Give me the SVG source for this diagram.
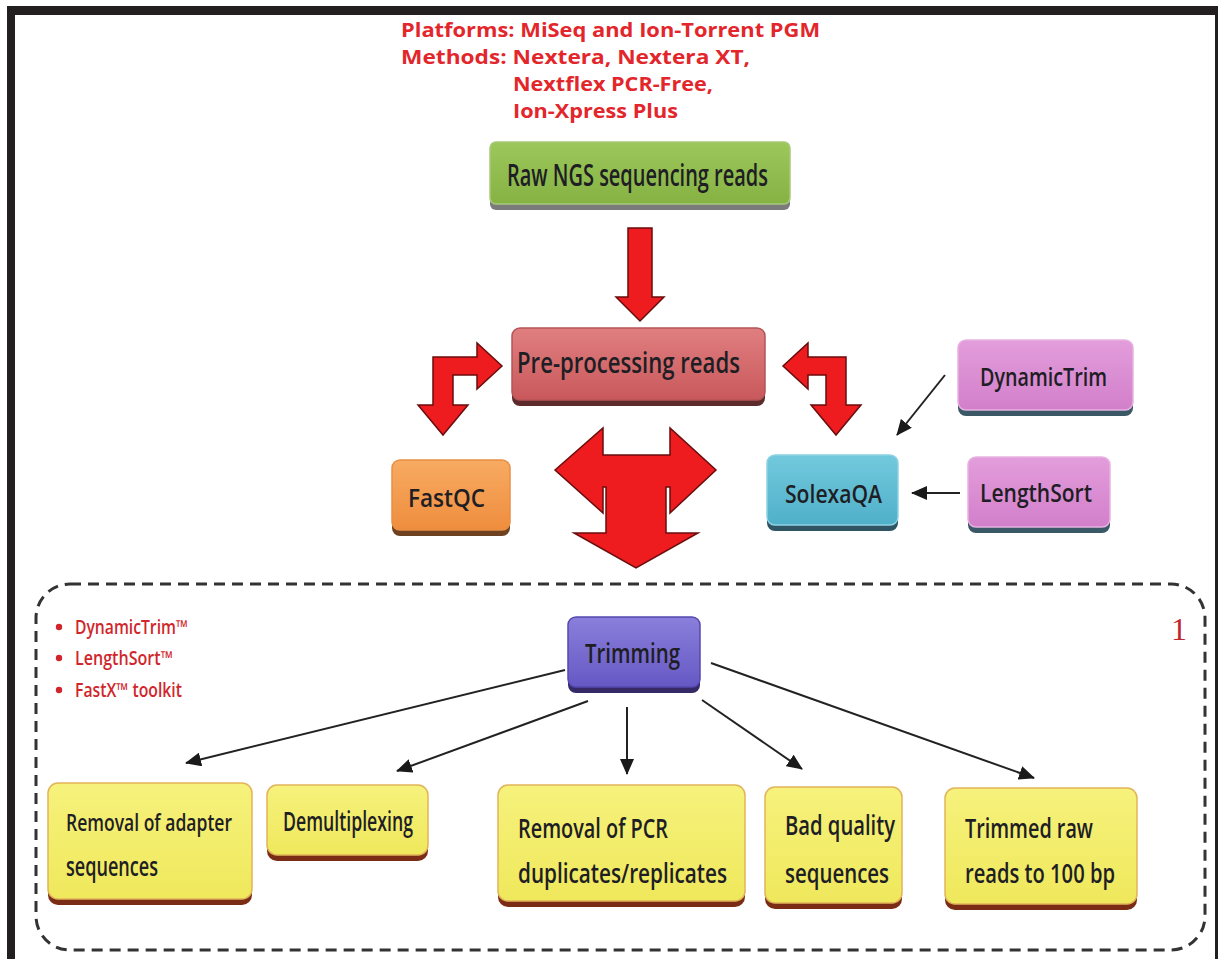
<svg xmlns="http://www.w3.org/2000/svg" width="1218" height="959" viewBox="0 0 1218 959">
<style>
.lbl{font-family:"Open Sans","Liberation Sans",sans-serif;font-weight:600;fill:#1e1e24;}
.top{font-family:"Open Sans","Liberation Sans",sans-serif;font-weight:700;fill:#e3262b;font-size:20px;}
.bul{font-family:"Open Sans","Liberation Sans",sans-serif;font-weight:600;fill:#d0262b;font-size:19px;}
.red{fill:#ee1b1f;stroke:#6a0d0d;stroke-width:1.5;stroke-linejoin:miter;}
.ln{stroke:#222;stroke-width:2;fill:none;marker-end:url(#ah);}
</style>
<defs>
<marker id="ah" markerUnits="userSpaceOnUse" markerWidth="16" markerHeight="14" refX="15" refY="7" orient="auto">
<path d="M0,0 L16,7 L0,14 z" fill="#1a1a1a"/>
</marker>
<linearGradient id="gGreen" x1="0" y1="0" x2="0" y2="1"><stop offset="0" stop-color="#9cc75a"/><stop offset="1" stop-color="#86b244"/></linearGradient>
<linearGradient id="gPre" x1="0" y1="0" x2="0" y2="1"><stop offset="0" stop-color="#e07f80"/><stop offset="1" stop-color="#c9585b"/></linearGradient>
<linearGradient id="gOr" x1="0" y1="0" x2="0" y2="1"><stop offset="0" stop-color="#f7ab62"/><stop offset="1" stop-color="#ef8d3e"/></linearGradient>
<linearGradient id="gBlue" x1="0" y1="0" x2="0" y2="1"><stop offset="0" stop-color="#72c9dd"/><stop offset="1" stop-color="#4fb0c9"/></linearGradient>
<linearGradient id="gPink" x1="0" y1="0" x2="0" y2="1"><stop offset="0" stop-color="#e39ddc"/><stop offset="1" stop-color="#d27fca"/></linearGradient>
<linearGradient id="gPur" x1="0" y1="0" x2="0" y2="1"><stop offset="0" stop-color="#8a7fdb"/><stop offset="1" stop-color="#6658c4"/></linearGradient>
<linearGradient id="gYel" x1="0" y1="0" x2="0" y2="1"><stop offset="0" stop-color="#f6f27c"/><stop offset="1" stop-color="#efe85c"/></linearGradient>
</defs>

<rect x="0" y="0" width="1218" height="959" fill="#ffffff"/>
<rect x="7" y="6" width="1211" height="9" fill="#231f20"/>
<rect x="7" y="6" width="8" height="953" fill="#231f20"/>
<rect x="1215" y="6" width="3" height="953" fill="#231f20"/>

<g id="header">
<text class="top" x="401" y="37" textLength="419" lengthAdjust="spacingAndGlyphs">Platforms: MiSeq and Ion-Torrent PGM</text>
<text class="top" x="401" y="64" textLength="349" lengthAdjust="spacingAndGlyphs">Methods: Nextera, Nextera XT,</text>
<text class="top" x="513" y="91" textLength="200" lengthAdjust="spacingAndGlyphs">Nextflex PCR-Free,</text>
<text class="top" x="513" y="118" textLength="165" lengthAdjust="spacingAndGlyphs">Ion-Xpress Plus</text>
</g>

<g id="region1">
<rect x="36" y="584" width="1169" height="366" rx="34" ry="34" fill="none" stroke="#333" stroke-width="3" stroke-dasharray="11,7"/>
<text x="1171" y="640" font-family="Liberation Serif,serif" font-size="32" fill="#c0282d">1</text>
<circle cx="59" cy="627" r="3.2" fill="#d0262b"/>
<text class="bul" x="75" y="634" textLength="113" lengthAdjust="spacingAndGlyphs">DynamicTrim™</text>
<circle cx="59" cy="658" r="3.2" fill="#d0262b"/>
<text class="bul" x="75" y="665" textLength="98" lengthAdjust="spacingAndGlyphs">LengthSort™</text>
<circle cx="59" cy="690" r="3.2" fill="#d0262b"/>
<text class="bul" x="75" y="697" textLength="107" lengthAdjust="spacingAndGlyphs">FastX™ toolkit</text>
</g>

<g id="connectors">
<path class="red" d="M628,228 L652,228 L652,297 L664,297 L640,321 L616,297 L628,297 Z"/>
<path class="red" d="M433,357 L477,357 L477,343 L502,366 L477,389 L477,375 L453,375 L453,405 L468,405 L443,435 L418,405 L433,405 Z"/>
<path class="red" d="M846,357 L808,357 L808,343 L783,366 L808,389 L808,375 L826,375 L826,405 L811,405 L836,435 L861,405 L846,405 Z"/>
<path class="red" d="M555,470 L603,428 L603,455 L670,455 L670,428 L716,470 L670,513 L670,487 L666,487 L666,533 L698,533 L636,568 L574,533 L606,533 L606,487 L603,487 L603,513 Z"/>
<line class="ln" x1="945" y1="375" x2="897" y2="435"/>
<line class="ln" x1="960" y1="493" x2="912" y2="493"/>
<line class="ln" x1="565" y1="670" x2="186" y2="763"/>
<line class="ln" x1="588" y1="701" x2="397" y2="771"/>
<line class="ln" x1="627" y1="707" x2="627" y2="774"/>
<line class="ln" x1="702" y1="700" x2="802" y2="769"/>
<line class="ln" x1="711" y1="663" x2="1034" y2="778"/>
</g>

<g id="raw">
<rect x="490" y="148" width="300" height="62" rx="6" fill="#7b7b7b"/>
<rect x="490" y="142" width="300" height="62" rx="6" fill="url(#gGreen)" stroke="#a7c97a" stroke-width="1.5"/>
<text class="lbl" x="507" y="186" font-size="31" textLength="261" lengthAdjust="spacingAndGlyphs">Raw NGS sequencing reads</text>
</g>
<g id="preprocessing">
<rect x="512" y="334" width="253" height="72" rx="8" fill="#5c2a2b"/>
<rect x="512" y="328" width="253" height="72" rx="8" fill="url(#gPre)" stroke="#b45456" stroke-width="1.5"/>
<text class="lbl" x="517" y="373" font-size="28" textLength="223" lengthAdjust="spacingAndGlyphs">Pre-processing reads</text>
</g>
<g id="fastqc">
<rect x="392" y="466" width="118" height="70" rx="8" fill="#6e4220"/>
<rect x="392" y="460" width="118" height="70" rx="8" fill="url(#gOr)" stroke="#e88f45" stroke-width="1.5"/>
<text class="lbl" x="408" y="507" font-size="26" textLength="77" lengthAdjust="spacingAndGlyphs">FastQC</text>
</g>
<g id="solexaqa">
<rect x="767" y="461" width="131" height="70" rx="8" fill="#2f5565"/>
<rect x="767" y="455" width="131" height="70" rx="8" fill="url(#gBlue)" stroke="#8fd2e3" stroke-width="1.5"/>
<text class="lbl" x="785" y="503" font-size="26" textLength="97" lengthAdjust="spacingAndGlyphs">SolexaQA</text>
</g>
<g id="dynamictrim">
<rect x="958" y="346" width="175" height="70" rx="8" fill="#3b5866"/>
<rect x="958" y="340" width="175" height="70" rx="8" fill="url(#gPink)" stroke="#e6b2e1" stroke-width="1.5"/>
<text class="lbl" x="980" y="386" font-size="26" textLength="127" lengthAdjust="spacingAndGlyphs">DynamicTrim</text>
</g>
<g id="lengthsort">
<rect x="968" y="463" width="142" height="70" rx="8" fill="#3b5866"/>
<rect x="968" y="457" width="142" height="70" rx="8" fill="url(#gPink)" stroke="#e6b2e1" stroke-width="1.5"/>
<text class="lbl" x="980" y="502" font-size="26" textLength="112" lengthAdjust="spacingAndGlyphs">LengthSort</text>
</g>
<g id="trimming">
<rect x="568" y="623" width="132" height="70" rx="8" fill="#352a66"/>
<rect x="568" y="617" width="132" height="70" rx="8" fill="url(#gPur)" stroke="#5548b0" stroke-width="1.5"/>
<text class="lbl" x="585" y="663" font-size="27" textLength="95" lengthAdjust="spacingAndGlyphs">Trimming</text>
</g>
<g id="adapter">
<rect x="48" y="789" width="204" height="116" rx="10" fill="#7a2c14"/>
<rect x="48" y="783" width="204" height="116" rx="10" fill="url(#gYel)" stroke="#e2b45a" stroke-width="1.5"/>
<text class="lbl" x="66" y="831" font-size="24" textLength="166" lengthAdjust="spacingAndGlyphs">Removal of adapter</text>
<text class="lbl" x="66" y="876" font-size="27" textLength="92" lengthAdjust="spacingAndGlyphs">sequences</text>
</g>
<g id="demultiplexing">
<rect x="267" y="791" width="161" height="70" rx="10" fill="#7a2c14"/>
<rect x="267" y="785" width="161" height="70" rx="10" fill="url(#gYel)" stroke="#e2b45a" stroke-width="1.5"/>
<text class="lbl" x="283" y="831" font-size="27" textLength="130" lengthAdjust="spacingAndGlyphs">Demultiplexing</text>
</g>
<g id="pcr">
<rect x="498" y="791" width="247" height="116" rx="10" fill="#7a2c14"/>
<rect x="498" y="785" width="247" height="116" rx="10" fill="url(#gYel)" stroke="#e2b45a" stroke-width="1.5"/>
<text class="lbl" x="518" y="838" font-size="27" textLength="150" lengthAdjust="spacingAndGlyphs">Removal of PCR</text>
<text class="lbl" x="518" y="883" font-size="27" textLength="209" lengthAdjust="spacingAndGlyphs">duplicates/replicates</text>
</g>
<g id="badquality">
<rect x="765" y="793" width="137" height="116" rx="10" fill="#7a2c14"/>
<rect x="765" y="787" width="137" height="116" rx="10" fill="url(#gYel)" stroke="#e2b45a" stroke-width="1.5"/>
<text class="lbl" x="785" y="835" font-size="27" textLength="110" lengthAdjust="spacingAndGlyphs">Bad quality</text>
<text class="lbl" x="785" y="883" font-size="27" textLength="104" lengthAdjust="spacingAndGlyphs">sequences</text>
</g>
<g id="trimmedraw">
<rect x="945" y="794" width="192" height="116" rx="10" fill="#7a2c14"/>
<rect x="945" y="788" width="192" height="116" rx="10" fill="url(#gYel)" stroke="#e2b45a" stroke-width="1.5"/>
<text class="lbl" x="965" y="838" font-size="27" textLength="128" lengthAdjust="spacingAndGlyphs">Trimmed raw</text>
<text class="lbl" x="965" y="883" font-size="27" textLength="150" lengthAdjust="spacingAndGlyphs">reads to 100 bp</text>
</g>
</svg>
